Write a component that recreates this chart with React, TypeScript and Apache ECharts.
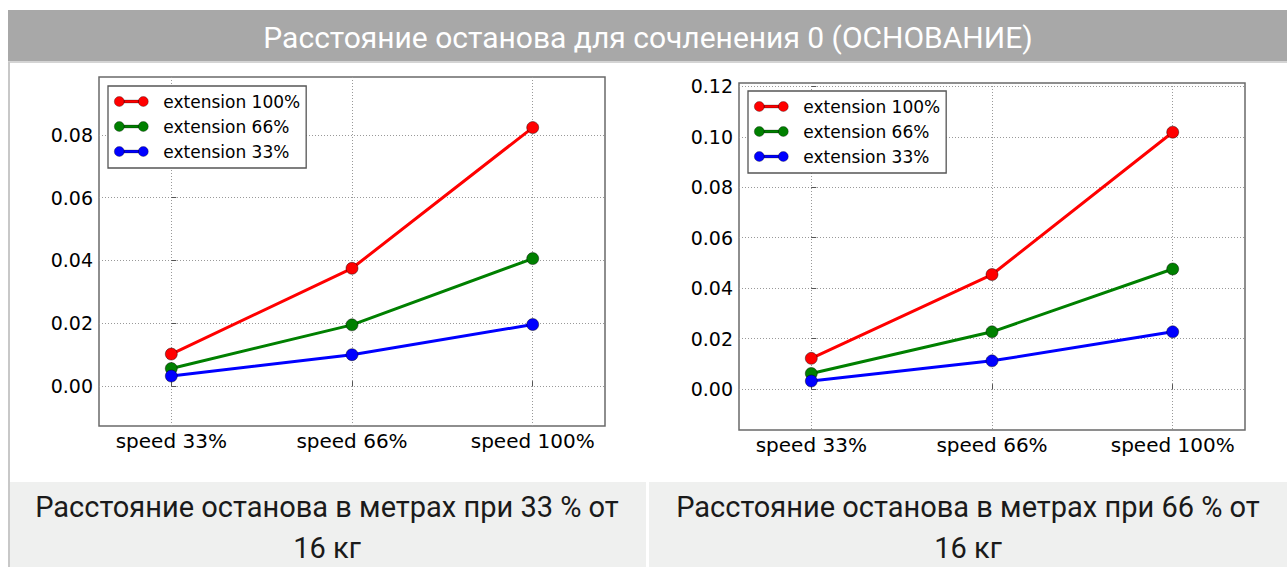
import React, { useEffect, useRef } from "react";
import * as echarts from "echarts";

const categories = ["speed 33%", "speed 66%", "speed 100%"];
const seriesNames = ["extension 100%", "extension 66%", "extension 33%"];
const seriesColors = ["#ff0000", "#008000", "#0000ff"];

const left100 = [0.0102, 0.0375, 0.0823];
const left66 = [0.0056, 0.0195, 0.0406];
const left33 = [0.0032, 0.01, 0.0196];

const right100 = [0.0122, 0.0454, 0.1018];
const right66 = [0.0062, 0.0227, 0.0476];
const right33 = [0.0032, 0.0112, 0.0227];

const leftTicks = [0, 0.02, 0.04, 0.06, 0.08];
const rightTicks = [0, 0.02, 0.04, 0.06, 0.08, 0.1, 0.12];
const catPositions = [0, 1, 2];

const titleText = "Расстояние останова для сочленения 0 (ОСНОВАНИЕ)";
const captionLeft = ["Расстояние останова в метрах при 33 % от", "16 кг"];
const captionRight = ["Расстояние останова в метрах при 66 % от", "16 кг"];

const MPL_FONT = "DejaVu Sans";
const legendIcon =
  "path://M0,5A5,5,0,1,1,10,5A5,5,0,1,1,0,5ZM24,5A5,5,0,1,1,34,5A5,5,0,1,1,24,5ZM9.9,3.6L24.1,3.6L24.1,6.4L9.9,6.4Z";

function xAxisFor(gridIndex: number) {
  return {
    type: "value",
    gridIndex,
    min: -0.4,
    max: 2.4,
    axisLine: { show: false },
    axisTick: { show: true, inside: true, length: 5, customValues: catPositions, lineStyle: { color: "#555" } },
    axisLabel: {
      customValues: catPositions,
      formatter: (v: number) => categories[Math.round(v)] ?? "",
      fontFamily: MPL_FONT,
      fontSize: 20,
      color: "#000",
      margin: 5,
    },
    splitLine: { show: true, lineStyle: { color: "#999", width: 1, type: [1, 2] } },
  };
}

function yAxisFor(gridIndex: number, min: number, max: number, ticks: number[]) {
  return {
    type: "value",
    gridIndex,
    min,
    max,
    axisLine: { show: false },
    axisTick: { show: true, inside: true, length: 5, customValues: ticks, lineStyle: { color: "#555" } },
    axisLabel: {
      customValues: ticks,
      formatter: (v: number) => v.toFixed(2),
      fontFamily: MPL_FONT,
      fontSize: 19,
      color: "#000",
      margin: 6,
    },
    splitLine: { show: true, lineStyle: { color: "#999", width: 1, type: [1, 2] } },
  };
}

function lineSeries(name: string, color: string, values: number[], idx: number) {
  return {
    type: "line",
    name,
    xAxisIndex: idx,
    yAxisIndex: idx,
    data: values.map((v, i) => [catPositions[i], v]),
    symbol: "circle",
    symbolSize: 12,
    lineStyle: { color, width: 3 },
    itemStyle: { color, borderColor: "rgba(0,0,0,0.55)", borderWidth: 0.8 },
    emphasis: { disabled: true },
  };
}

function legendFor(left: number, top: number) {
  return {
    orient: "vertical",
    left,
    top,
    data: seriesNames,
    icon: legendIcon,
    itemWidth: 34,
    itemHeight: 10,
    itemGap: 6,
    padding: [6, 6, 7, 6],
    backgroundColor: "#fff",
    borderColor: "#555",
    borderWidth: 1.3,
    selectedMode: false,
    itemStyle: { borderColor: "rgba(0,0,0,0.5)", borderWidth: 0.6 },
    textStyle: { fontFamily: MPL_FONT, fontSize: 17, color: "#000", lineHeight: 19, padding: [0, 0, 0, 10] },
  };
}

export default function App() {
  const ref = useRef<HTMLDivElement>(null);
  useEffect(() => {
    if (!ref.current) return;
    const chart = echarts.init(ref.current, null, { renderer: "svg" });
    const leftGroup = [left100, left66, left33];
    const rightGroup = [right100, right66, right33];
    const series: any[] = [];
    leftGroup.forEach((vals, i) => series.push(lineSeries(seriesNames[i], seriesColors[i], vals, 0)));
    rightGroup.forEach((vals, i) => series.push(lineSeries(seriesNames[i], seriesColors[i], vals, 1)));

    const captionStyle = (text: string) => ({
      text,
      fill: "#1a1a1a",
      font: "29px Roboto",
      textAlign: "center",
      textVerticalAlign: "middle",
    });

    chart.setOption({
      animation: false,
      backgroundColor: "#fff",
      grid: [
        { left: 99, top: 77, width: 506, height: 349, show: true, borderColor: "#6a6a6a", borderWidth: 1.5, backgroundColor: "transparent" },
        { left: 739, top: 83, width: 506, height: 347, show: true, borderColor: "#6a6a6a", borderWidth: 1.5, backgroundColor: "transparent" },
      ],
      xAxis: [xAxisFor(0), xAxisFor(1)],
      yAxis: [yAxisFor(0, -0.0127, 0.0984, leftTicks), yAxisFor(1, -0.0162, 0.1213, rightTicks)],
      legend: [legendFor(108, 86), legendFor(748, 91)],
      series,
      graphic: [
        { type: "rect", z: -10, shape: { x: 8, y: 10, width: 1290, height: 52 }, style: { fill: "#a8a8a8" } },
        { type: "rect", z: -10, shape: { x: 8, y: 61, width: 1290, height: 2 }, style: { fill: "#d4d4d4" } },
        { type: "rect", z: -10, shape: { x: 8, y: 62, width: 2, height: 510 }, style: { fill: "#c8c8c8" } },
        { type: "rect", z: -10, shape: { x: 10, y: 482, width: 636, height: 90 }, style: { fill: "#eff0ef" } },
        { type: "rect", z: -10, shape: { x: 649, y: 482, width: 640, height: 90 }, style: { fill: "#eff0ef" } },
        {
          type: "text",
          x: 648,
          y: 37,
          style: { text: titleText, fill: "#fff", font: "30px Roboto", textAlign: "center", textVerticalAlign: "middle" },
        },
        { type: "text", x: 327, y: 507, style: captionStyle(captionLeft[0]) },
        { type: "text", x: 327, y: 548, style: captionStyle(captionLeft[1]) },
        { type: "text", x: 968, y: 507, style: captionStyle(captionRight[0]) },
        { type: "text", x: 968, y: 548, style: captionStyle(captionRight[1]) },
      ],
    });
    return () => chart.dispose();
  }, []);
  return (
    <div
      ref={ref}
      style={{ position: "fixed", left: 0, top: 0, width: 1287, height: 567 }}
    />
  );
}
